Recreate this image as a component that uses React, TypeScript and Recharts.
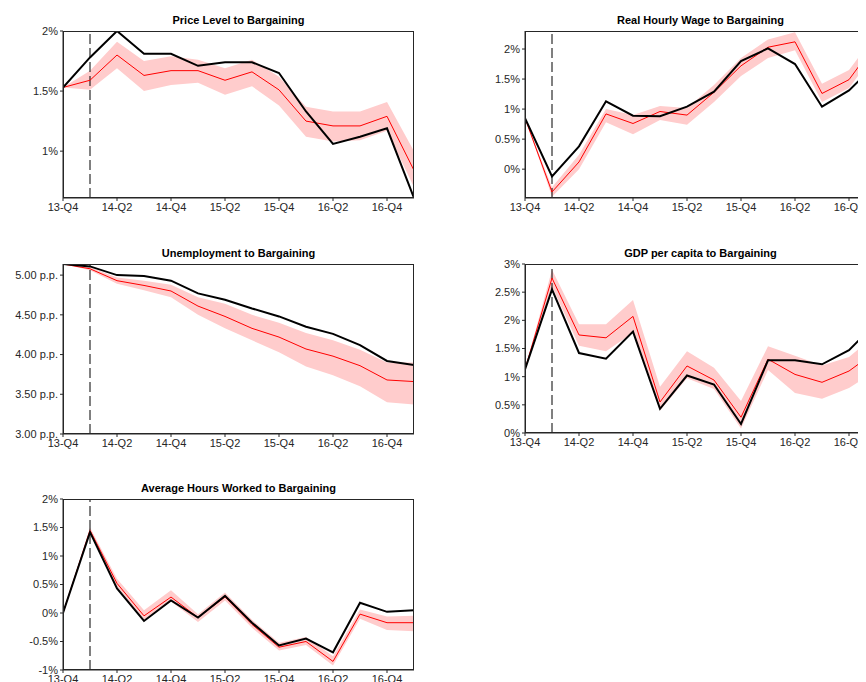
import { ComposedChart, Line, Area, XAxis, YAxis, ReferenceLine } from "recharts";

const quarters = ["13-Q4", "14-Q1", "14-Q2", "14-Q3", "14-Q4", "15-Q1", "15-Q2", "15-Q3", "15-Q4", "16-Q1", "16-Q2", "16-Q3", "16-Q4", "17-Q1"];

const priceActual = [1.53, 1.78, 2.0, 1.81, 1.81, 1.71, 1.74, 1.74, 1.65, 1.33, 1.06, 1.12, 1.19, 0.61];
const priceMedian = [1.53, 1.59, 1.8, 1.63, 1.67, 1.67, 1.59, 1.66, 1.51, 1.25, 1.21, 1.21, 1.29, 0.84];
const priceLow = [1.53, 1.51, 1.69, 1.5, 1.55, 1.57, 1.47, 1.54, 1.38, 1.12, 1.08, 1.09, 1.17, 0.7];
const priceHigh = [1.53, 1.67, 1.91, 1.75, 1.79, 1.76, 1.69, 1.76, 1.62, 1.37, 1.33, 1.33, 1.41, 1.0];

const wageActual = [0.85, -0.12, 0.38, 1.13, 0.89, 0.88, 1.04, 1.29, 1.8, 2.01, 1.75, 1.04, 1.31, 1.75];
const wageMedian = [0.85, -0.38, 0.12, 0.92, 0.76, 0.96, 0.9, 1.28, 1.72, 2.03, 2.12, 1.26, 1.49, 2.1];
const wageLow = [0.85, -0.46, 0.0, 0.78, 0.58, 0.82, 0.74, 1.12, 1.55, 1.85, 1.98, 1.12, 1.35, 1.95];
const wageHigh = [0.85, -0.3, 0.24, 1.0, 0.9, 1.05, 1.02, 1.4, 1.85, 2.16, 2.28, 1.42, 1.65, 2.25];

const unempActual = [5.14, 5.11, 5.0, 4.99, 4.93, 4.77, 4.69, 4.58, 4.48, 4.35, 4.26, 4.12, 3.92, 3.87];
const unempMedian = [5.14, 5.08, 4.93, 4.87, 4.8, 4.61, 4.48, 4.33, 4.22, 4.07, 3.98, 3.86, 3.68, 3.66];
const unempLow = [5.14, 5.06, 4.89, 4.81, 4.72, 4.5, 4.33, 4.18, 4.03, 3.85, 3.74, 3.6, 3.4, 3.37];
const unempHigh = [5.14, 5.1, 4.97, 4.93, 4.88, 4.72, 4.64, 4.5, 4.4, 4.27, 4.18, 4.06, 3.9, 3.9];

const gdpActual = [1.13, 2.55, 1.42, 1.32, 1.8, 0.43, 1.02, 0.86, 0.16, 1.29, 1.29, 1.22, 1.47, 1.95];
const gdpMedian = [1.13, 2.75, 1.74, 1.69, 2.07, 0.55, 1.19, 0.94, 0.28, 1.31, 1.04, 0.9, 1.1, 1.45];
const gdpLow = [1.13, 2.6, 1.55, 1.45, 1.78, 0.4, 0.97, 0.78, 0.08, 1.12, 0.71, 0.61, 0.8, 1.1];
const gdpHigh = [1.13, 2.9, 1.93, 1.93, 2.36, 0.82, 1.45, 1.16, 0.57, 1.54, 1.37, 1.2, 1.35, 1.75];

const hoursActual = [0, 1.42, 0.43, -0.14, 0.22, -0.08, 0.3, -0.17, -0.57, -0.45, -0.69, 0.18, 0.02, 0.05];
const hoursMedian = [0, 1.45, 0.52, -0.05, 0.28, -0.08, 0.28, -0.2, -0.6, -0.5, -0.85, -0.02, -0.17, -0.17];
const hoursLow = [0, 1.4, 0.46, -0.12, 0.2, -0.16, 0.22, -0.26, -0.66, -0.56, -0.92, -0.1, -0.3, -0.32];
const hoursHigh = [0, 1.5, 0.6, 0.05, 0.4, -0.02, 0.36, -0.12, -0.52, -0.42, -0.76, 0.06, -0.06, -0.05];

const xTicks = [0, 2, 4, 6, 8, 10, 12];
const font = "'Liberation Sans', Arial, sans-serif";
const PLOT_W = 351;

type PanelProps = {
  title: string;
  left: number;
  top: number;
  height: number;
  domain: [number, number];
  yTicks: number[];
  fmt: (v: number) => string;
  actual: number[];
  median: number[];
  low: number[];
  high: number[];
};

function Panel({ title, left, top, height, domain, yTicks, fmt, actual, median, low, high }: PanelProps) {
  const data = quarters.map((q, i) => ({ i, q, actual: actual[i], median: median[i], band: [low[i], high[i]] }));
  const mL = 60, mT = 20;
  const w = mL + PLOT_W + 10;
  const h = mT + height + 25;
  const tick = { fontSize: 11, fill: "#262626", fontFamily: font };
  return (
    <div style={{ position: "absolute", left: left - 8 - mL, top: top - 8 - mT, width: w, height: h }}>
      <div style={{ position: "absolute", left: mL, width: PLOT_W, top: 3, textAlign: "center", fontFamily: font, fontSize: 11, fontWeight: "bold", color: "#000" }}>
        {title}
      </div>
      <ComposedChart width={w} height={h} data={data} margin={{ top: mT, right: 10, left: 0, bottom: 5 }}>
        <XAxis dataKey="i" type="number" domain={[0, 13]} ticks={xTicks} tickFormatter={(v) => quarters[v]} tick={tick} stroke="#262626" tickSize={3} height={20} allowDataOverflow />
        <YAxis domain={domain} ticks={yTicks} tickFormatter={fmt} tick={tick} stroke="#262626" tickSize={3} width={mL} allowDataOverflow />
        <Area dataKey="band" fill="#ffcccc" fillOpacity={1} stroke="none" isAnimationActive={false} />
        <ReferenceLine x={1} stroke="#000" strokeDasharray="10 4" />
        <Line dataKey="median" stroke="#ff0000" strokeWidth={1} dot={false} isAnimationActive={false} />
        <Line dataKey="actual" stroke="#000" strokeWidth={2} dot={false} isAnimationActive={false} />
      </ComposedChart>
      <div style={{ position: "absolute", left: mL, top: mT, width: PLOT_W, height, boxSizing: "border-box", border: "1px solid #262626", pointerEvents: "none" }} />
    </div>
  );
}

const pct = (v: number) => `${v}%`;
const pp = (v: number) => `${v.toFixed(2)} p.p.`;

export default function App() {
  return (
    <div style={{ position: "relative", width: 858, height: 674, overflow: "hidden" }}>
      <Panel title="Price Level to Bargaining" left={63} top={31} height={167} domain={[0.61, 2.0]} yTicks={[1, 1.5, 2]} fmt={pct} actual={priceActual} median={priceMedian} low={priceLow} high={priceHigh} />
      <Panel title="Real Hourly Wage to Bargaining" left={525} top={31} height={167} domain={[-0.48, 2.3]} yTicks={[0, 0.5, 1, 1.5, 2]} fmt={pct} actual={wageActual} median={wageMedian} low={wageLow} high={wageHigh} />
      <Panel title="Unemployment to Bargaining" left={63} top={264} height={170} domain={[3, 5.14]} yTicks={[3, 3.5, 4, 4.5, 5]} fmt={pp} actual={unempActual} median={unempMedian} low={unempLow} high={unempHigh} />
      <Panel title="GDP per capita to Bargaining" left={525} top={264} height={169} domain={[0, 3]} yTicks={[0, 0.5, 1, 1.5, 2, 2.5, 3]} fmt={pct} actual={gdpActual} median={gdpMedian} low={gdpLow} high={gdpHigh} />
      <Panel title="Average Hours Worked to Bargaining" left={63} top={499} height={171} domain={[-1, 2]} yTicks={[-1, -0.5, 0, 0.5, 1, 1.5, 2]} fmt={pct} actual={hoursActual} median={hoursMedian} low={hoursLow} high={hoursHigh} />
    </div>
  );
}
